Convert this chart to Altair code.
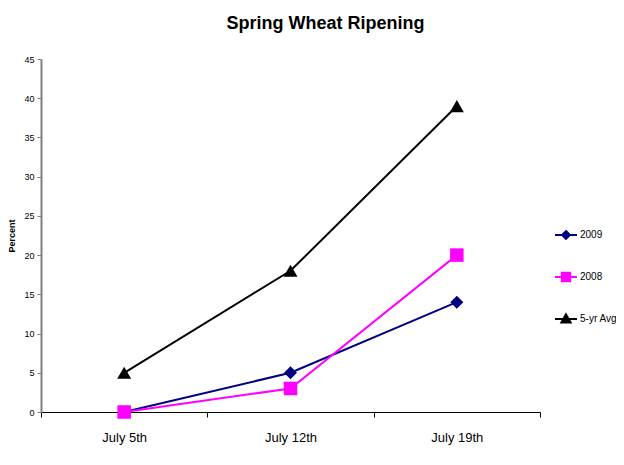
import altair as alt
import pandas as pd

dates = ["July 5th", "July 12th", "July 19th"]
series_names = ["2009", "2008", "5-yr Avg"]
v2009 = [0, 5, 14]
v2008 = [0, 3, 20]
v5yr = [5, 18, 39]
colors = ["#000080", "#FF00FF", "#000000"]
shapes = ["diamond", "square", "triangle-up"]
sizes = [169, 196, 196]

rows = []
for name, vals in zip(series_names, [v2009, v2008, v5yr]):
    for i, (d, v) in enumerate(zip(dates, vals)):
        rows.append({"series": name, "idx": i, "date": d, "value": v})
df = pd.DataFrame(rows)

legend_paths = [
    "M-1,0H1M0,-0.36L0.36,0L0,0.36L-0.36,0Z",
    "M-1,0H1M-0.38,-0.38H0.38V0.38H-0.38Z",
    "M-1,0H1M0,-0.42L0.42,0.32H-0.42Z",
]

xscale = alt.Scale(domain=[-0.5, 2.5], nice=False, zero=False)
yscale = alt.Scale(domain=[0, 45], nice=False)

label_expr = ("datum.value == 0 ? 'July 5th' : datum.value == 1 ? 'July 12th' : "
              "datum.value == 2 ? 'July 19th' : ''")

x_axis = alt.Axis(values=[-0.5, 0, 0.5, 1, 1.5, 2, 2.5], labelExpr=label_expr,
                  tickSize=5,
                  tickColor={"condition": {"test": "datum.value % 1 == 0",
                                           "value": "transparent"},
                             "value": "#000000"},
                  domainColor="#000000", grid=False,
                  labelFontSize=13, labelFont="Liberation Sans",
                  labelColor="#000000", labelPadding=14, labelFlush=False,
                  labelOverlap=False,
                  title="Date", titleFontSize=8, titleFontWeight="bold",
                  titleFont="Liberation Sans", titlePadding=10)
y_axis = alt.Axis(values=list(range(0, 46, 5)), title="Percent",
                  titleFontSize=9, titleFontWeight="bold", titleFont="Liberation Sans",
                  titlePadding=7, labelFontSize=9, labelFont="Liberation Sans",
                  labelColor="#000000", domainColor="#808080", domainWidth=2,
                  tickColor="#808080", tickSize=4, grid=False, labelPadding=3)

base = alt.Chart(df)

lines = base.mark_line(strokeWidth=2).encode(
    x=alt.X("idx:Q", scale=xscale, axis=x_axis),
    y=alt.Y("value:Q", scale=yscale, axis=y_axis),
    color=alt.Color("series:N", scale=alt.Scale(domain=series_names, range=colors), legend=None),
    detail="series:N",
)

points = base.mark_point(filled=True, opacity=1).encode(
    x=alt.X("idx:Q", scale=xscale, axis=x_axis),
    y=alt.Y("value:Q", scale=yscale, axis=y_axis),
    color=alt.Color("series:N", scale=alt.Scale(domain=series_names, range=colors), legend=None),
    shape=alt.Shape("series:N", scale=alt.Scale(domain=series_names, range=shapes), legend=None),
    size=alt.Size("series:N", scale=alt.Scale(domain=series_names, range=sizes), legend=None),
)

legend_layers = []
for k, (name, col, path) in enumerate(zip(series_names, colors, legend_paths)):
    leg = alt.Legend(title=None, orient="none", legendX=513, legendY=164 + 42 * k,
                     symbolType=path, symbolSize=484, symbolStrokeWidth=2,
                     symbolOpacity=1, symbolFillColor=col, symbolStrokeColor=col,
                     labelFontSize=10, labelFont="Liberation Sans",
                     labelColor="#000000", labelOffset=2, padding=0)
    legend_layers.append(
        base.transform_filter("false").mark_point(filled=True, opacity=1, strokeWidth=2).encode(
            x=alt.X("idx:Q", scale=xscale, axis=x_axis),
            y=alt.Y("value:Q", scale=yscale, axis=y_axis),
            color=alt.Color("series:N", scale=alt.Scale(domain=[name], range=[col]),
                            legend=leg),
        )
    )

chart = alt.layer(lines, points, *legend_layers).resolve_scale(
    color="independent", shape="independent", size="independent"
).properties(
    width=499, height=353,
    title=alt.TitleParams("Spring Wheat Ripening", fontSize=18, fontWeight="bold",
                          font="Liberation Sans", anchor="middle", dx=35, offset=22,
                          color="#000000"),
    autosize=alt.AutoSizeParams(type="none"),
    padding={"left": 33, "top": 51, "right": 76, "bottom": 38},
).configure_view(stroke=None)

chart.save("out.html", embed_options={"renderer": "svg", "actions": False})
